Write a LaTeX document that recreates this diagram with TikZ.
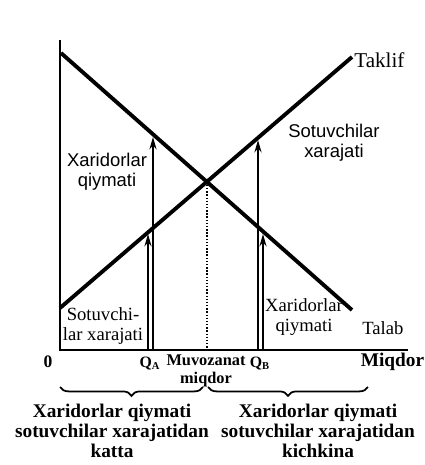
\documentclass[tikz,border=0pt]{standalone}
\usepackage{fontspec}
\setmainfont{Liberation Serif}
\setsansfont{Liberation Sans}
\usetikzlibrary{arrows.meta,decorations.pathreplacing}

\tikzset{
  curve/.style={line width=2.2pt},
  valarrow/.style={line width=1.3pt, -{Stealth[length=7pt,width=4pt]}},
  lbl/.style={font=\fontsize{10.5}{11.5}\selectfont\sffamily, align=center, inner sep=0pt},
  serlbl/.style={font=\fontsize{10.6}{11.5}\selectfont, align=center, inner sep=0pt},
  boldlbl/.style={font=\bfseries, align=center, inner sep=0pt},
  brc/.style={decorate, decoration={brace, mirror, amplitude=5pt}, line width=1pt}
}

\begin{document}
\begin{tikzpicture}[x=0.2mm, y=-0.2mm]
  \useasboundingbox (0,0) rectangle (425,465);

  % Axes
  \coordinate (ytop) at (60,40);
  \coordinate (O) at (60,350);
  \coordinate (xend) at (408,350);
  \draw[line width=1.1pt] (ytop) -- (O) -- (xend);

  % Demand and supply
  \coordinate (D1) at (61,53);
  \coordinate (D2) at (352,310);
  \coordinate (S1) at (60,308);
  \coordinate (S2) at (352,57);
  \draw[curve] (D1) -- (D2);
  \draw[curve] (S1) -- (S2);
  \node[serlbl, font=\large, anchor=west] (taklif) at (354,60) {Taklif};
  \node[serlbl, anchor=west] (talab) at (362,328) {Talab};

  % Equilibrium
  \coordinate (E) at (206.8,181.7);
  \coordinate (Eq) at (206.8,350);
  \draw[line width=0.8pt, densely dotted] (E) -- (Eq);

  % Arrows at Q_A
  \coordinate (qaL) at (153,350);
  \coordinate (qaLtop) at (153,137);
  \coordinate (qaS) at (148,350);
  \coordinate (qaStop) at (148,234);
  \draw[valarrow] (qaL) -- (qaLtop);
  \draw[valarrow] (qaS) -- (qaStop);

  % Arrows at Q_B
  \coordinate (qbL) at (258,350);
  \coordinate (qbLtop) at (258,140);
  \coordinate (qbS) at (263,350);
  \coordinate (qbStop) at (263,234);
  \draw[valarrow] (qbL) -- (qbLtop);
  \draw[valarrow] (qbS) -- (qbStop);

  % Area labels
  \node[lbl] (buyup) at (107,172) {Xaridorlar\\qiymati};
  \node[lbl] (sellup) at (334,143) {Sotuvchilar\\xarajati};
  \node[serlbl] (selllow) at (103,326) {Sotuvchi-\\lar xarajati};
  \node[serlbl] (buylow) at (304,317) {Xaridorlar\\qiymati};

  % Axis labels
  \node[boldlbl] (zero) at (48,362) {0};
  \node[boldlbl, font=\small\bfseries] (qa) at (150,364) {Q\textsubscript{A}};
  \node[boldlbl, font=\fontsize{9.3}{10}\selectfont\bfseries] (eqlbl) at (206,371) {Muvozanat\\miqdor};
  \node[boldlbl, font=\small\bfseries] (qb) at (260,364) {Q\textsubscript{B}};
  \node[boldlbl, font=\fontsize{11}{12}\selectfont\bfseries, anchor=east] (miqdor) at (424.5,362) {Miqdor};

  % Braces
  \draw[brc] (60,387) -- (203,387);
  \draw[brc] (208,387) -- (368,387);

  % Conclusions
  \node[boldlbl, font=\fontsize{11}{11.5}\selectfont\bfseries] (leftnote) at (112,431) {Xaridorlar qiymati\\sotuvchilar xarajatidan\\katta};
  \node[boldlbl, font=\fontsize{11}{11.5}\selectfont\bfseries] (rightnote) at (318,431) {Xaridorlar qiymati\\sotuvchilar xarajatidan\\kichkina};
\end{tikzpicture}
\end{document}
